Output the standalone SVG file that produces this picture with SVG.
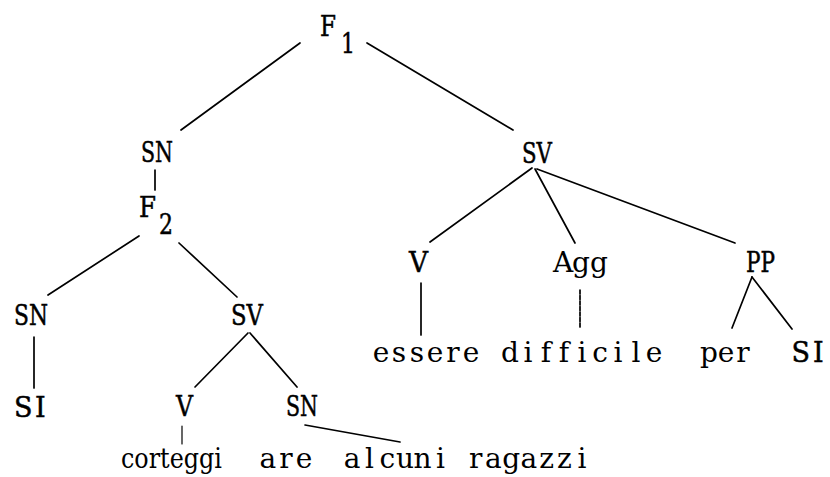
<svg xmlns="http://www.w3.org/2000/svg" width="830" height="477" viewBox="0 0 830 477">
  <style>
    .c { font-family: "DejaVu Serif", "Liberation Serif", serif; font-size: 27px; fill: #000; stroke: #000; stroke-width: 0.5px; }
    .w { font-family: "DejaVu Serif", "Liberation Serif", serif; font-size: 28px; fill: #000; }
    .e { stroke: #000; stroke-width: 1.7; fill: none; stroke-linecap: round; }
  </style>
  <rect width="830" height="477" fill="#fff"/>
  <g id="connectors" class="e">
    <line x1="300" y1="43" x2="181" y2="130"/>
    <line x1="367" y1="43" x2="513" y2="130"/>
    <line x1="155" y1="170" x2="155" y2="190"/>
    <line x1="139" y1="236" x2="48" y2="295"/>
    <line x1="179" y1="243" x2="237" y2="297"/>
    <line x1="34" y1="337" x2="34" y2="388"/>
    <line x1="248" y1="333" x2="195" y2="387"/>
    <line x1="250" y1="333" x2="297" y2="387"/>
    <line x1="182" y1="426" x2="182" y2="444" stroke-width="1.2"/>
    <line x1="305" y1="425" x2="400" y2="442"/>
    <line x1="532" y1="168" x2="430" y2="242"/>
    <line x1="535" y1="169" x2="575" y2="243"/>
    <line x1="537" y1="169" x2="735" y2="243"/>
    <line x1="421" y1="283" x2="421" y2="335"/>
    <line x1="580" y1="290" x2="580" y2="327" stroke-dasharray="4 1.5"/>
    <line x1="752" y1="277" x2="732" y2="328"/>
    <line x1="752" y1="277" x2="792" y2="329"/>
  </g>
  <g id="F1"><text class="c" x="320" y="36" textLength="16" lengthAdjust="spacingAndGlyphs">F</text><text class="c" x="341" y="53" textLength="14" lengthAdjust="spacingAndGlyphs">1</text></g>
  <g id="SN1"><text class="c" x="141" y="162" textLength="32" lengthAdjust="spacingAndGlyphs">SN</text></g>
  <g id="SV1"><text class="c" x="522" y="163" textLength="30" lengthAdjust="spacingAndGlyphs">SV</text></g>
  <g id="F2"><text class="c" x="139" y="217" textLength="17" lengthAdjust="spacingAndGlyphs">F</text><text class="c" x="159" y="234" textLength="14" lengthAdjust="spacingAndGlyphs">2</text></g>
  <g id="SN2"><text class="c" x="14" y="325" textLength="34" lengthAdjust="spacingAndGlyphs">SN</text></g>
  <g id="SV2"><text class="c" x="231" y="325" textLength="32" lengthAdjust="spacingAndGlyphs">SV</text></g>
  <g id="SI1"><text class="c" x="14 35" y="417">SI</text></g>
  <g id="V2"><text class="c" x="176" y="416" textLength="17" lengthAdjust="spacingAndGlyphs">V</text></g>
  <g id="SN3"><text class="c" x="286" y="416" textLength="32" lengthAdjust="spacingAndGlyphs">SN</text></g>
  <g id="leafV2"><text class="w" x="121" y="468" textLength="101" lengthAdjust="spacingAndGlyphs">corteggi</text><text class="w" x="259.6 279.3 295.7" y="468">are</text></g>
  <g id="leafSN3"><text class="w" x="343.7 365 379.4 396 413.6 435.9 449.2 469 485.1 502.2 520.5 539.2 556.9 577.5" y="468">alcuni ragazzi</text></g>
  <g id="V1"><text class="c" x="409" y="272" textLength="19" lengthAdjust="spacingAndGlyphs">V</text></g>
  <g id="Agg"><text class="w" x="553 572 590" y="272">Agg</text></g>
  <g id="PP"><text class="c" x="746" y="272" textLength="29" lengthAdjust="spacingAndGlyphs">PP</text></g>
  <g id="essere"><text class="w" x="372.7 391.8 409.8 426.7 446.3 462.7" y="362">essere</text></g>
  <g id="difficile"><text class="w" x="501 523.5 540.8 558.8 577.5 592.2 613.5 631.5 645.7" y="362">difficile</text></g>
  <g id="per"><text class="w" x="700 717.7 736.3" y="362">per</text></g>
  <g id="SI2"><text class="c" x="791.5 813" y="362">SI</text></g>
</svg>
